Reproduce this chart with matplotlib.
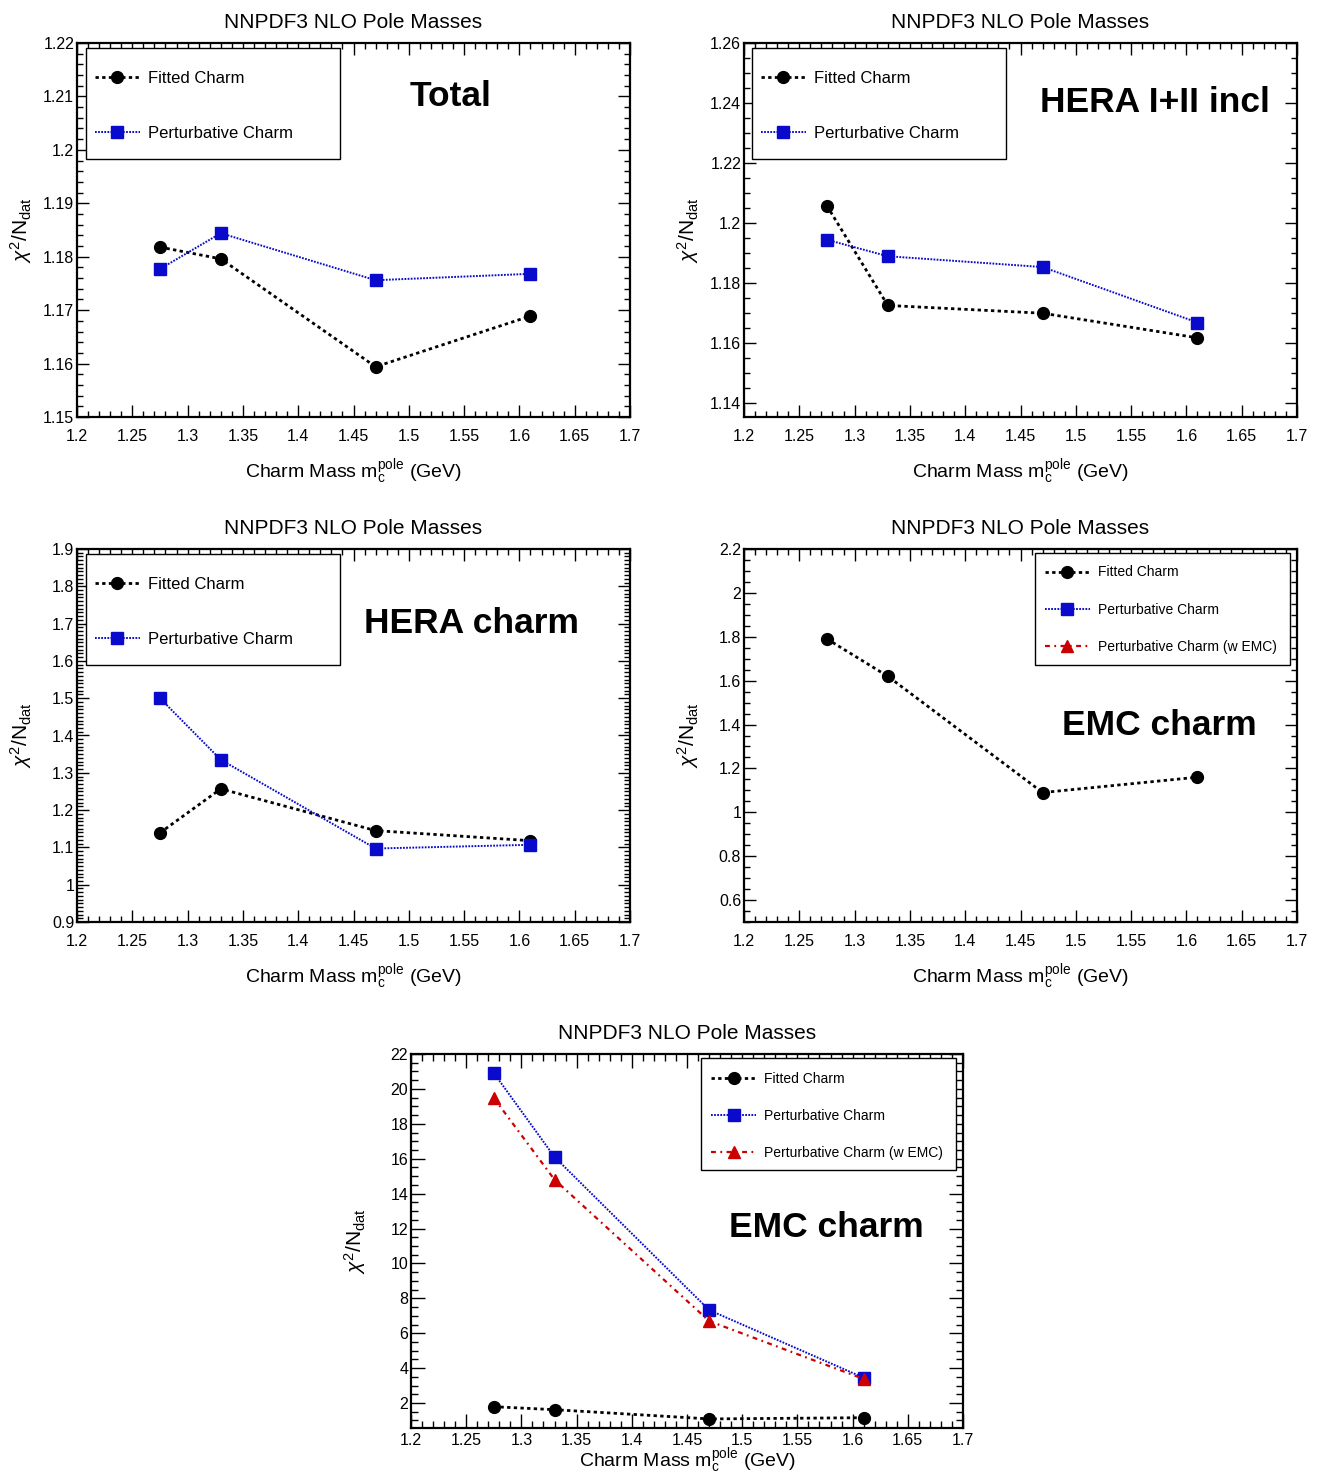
import matplotlib
matplotlib.use("Agg")
import matplotlib.pyplot as plt
from matplotlib.patches import Rectangle
from matplotlib.ticker import MultipleLocator, FuncFormatter

plt.rcParams['font.family'] = ['Liberation Sans', 'DejaVu Sans']
plt.rcParams['mathtext.fontset'] = 'custom'
plt.rcParams['mathtext.rm'] = 'Liberation Sans'
plt.rcParams['mathtext.it'] = 'Liberation Sans:italic'
plt.rcParams['mathtext.bf'] = 'Liberation Sans:bold'

# charm pole masses (GeV)
mass = [1.275, 1.33, 1.47, 1.61]

# chi2/Ndat values
total_fitted = [1.1818, 1.1796, 1.1594, 1.1689]
total_pert = [1.1777, 1.1844, 1.1756, 1.1768]
hera_incl_fitted = [1.2057, 1.1725, 1.1699, 1.1617]
hera_incl_pert = [1.1944, 1.1889, 1.1853, 1.1668]
hera_charm_fitted = [1.139, 1.257, 1.145, 1.118]
hera_charm_pert = [1.500, 1.335, 1.097, 1.107]
emc_fitted = [1.79, 1.62, 1.09, 1.16]
emc_pert = [20.91, 16.10, 7.33, 3.45]
emc_pert_emc = [19.48, 14.80, 6.70, 3.38]

title = 'NNPDF3 NLO Pole Masses'
xlabel = r'Charm Mass m$_{\rm c}^{\rm pole}$ (GeV)'
ylabel = r'$\mathit{\chi}^{2}$/N$_{\rm dat}$'
lab_fit = 'Fitted Charm'
lab_pert = 'Perturbative Charm'
lab_pert_emc = 'Perturbative Charm (w EMC)'

BLUE = '#0a0acc'
RED = '#cc0000'

W, H = 1318, 1475
fig = plt.figure(figsize=(W / 100, H / 100), dpi=100)


def px_axes(left, top, right, bottom):
    return fig.add_axes([left / W, 1 - bottom / H, (right - left) / W, (bottom - top) / H])


def fmt(v, _):
    return f'{round(v, 6):g}'


def draw_panel(ax, series, ylim, ymaj, ymin, tag, tag_xy, frame, leg_anchor,
               leg_size, leg_spacing, xlab_y, tick_pad, maj_len=8.5):
    for y, lab, kind in series:
        if kind == 'fit':
            ax.plot(mass, y, color='black', lw=2.0, ls=(0, (1.2, 1.2)),
                    marker='o', ms=8.5, label=lab)
        elif kind == 'pert':
            ax.plot(mass, y, color=BLUE, lw=1.4, ls=(0, (0.9, 0.7)),
                    marker='s', ms=8.5, mec=BLUE, mfc=BLUE, label=lab)
        else:
            ax.plot(mass, y, color=RED, lw=1.6, ls=(0, (2.2, 2, 0.8, 2)),
                    marker='^', ms=9, mec=RED, mfc=RED, label=lab)
    ax.set_xlim(1.2, 1.7)
    ax.set_ylim(*ylim)
    ax.xaxis.set_major_locator(MultipleLocator(0.05))
    ax.xaxis.set_minor_locator(MultipleLocator(0.01))
    ax.yaxis.set_major_locator(MultipleLocator(ymaj))
    ax.yaxis.set_minor_locator(MultipleLocator(ymin))
    ax.xaxis.set_major_formatter(FuncFormatter(fmt))
    ax.yaxis.set_major_formatter(FuncFormatter(fmt))
    ax.tick_params(which='both', direction='in', top=True, right=True,
                   labelsize=11.5, width=1.0)
    ax.tick_params(which='major', length=maj_len)
    ax.tick_params(which='minor', length=maj_len / 2)
    ax.tick_params(axis='x', pad=tick_pad)
    ax.tick_params(axis='y', pad=2)
    for s in ax.spines.values():
        s.set_linewidth(1.6)
    ax.set_title(title, fontsize=15, pad=11)
    ax.set_xlabel(xlabel, fontsize=14)
    ax.xaxis.set_label_coords(0.5, xlab_y)
    ax.set_ylabel(ylabel, fontsize=15)
    ax.yaxis.set_label_coords(-0.077, 0.5)
    ax.text(tag_xy[0], tag_xy[1], tag, transform=ax.transAxes, ha='center',
            va='center', fontsize=25.5, fontweight='bold')

    # ROOT-like legend: plain box, entries spread out inside it
    x0, y0, x1, y1 = frame
    ax.add_patch(Rectangle((x0, y0), x1 - x0, y1 - y0, transform=ax.transAxes,
                           facecolor='white', edgecolor='black', lw=1.0,
                           zorder=4.5))
    ax.legend(loc='upper left', bbox_to_anchor=leg_anchor, fontsize=leg_size,
              frameon=False, borderpad=0, borderaxespad=0,
              labelspacing=leg_spacing, handlelength=45 / (leg_size * 100 / 72),
              handletextpad=8 / (leg_size * 100 / 72))


ax1 = px_axes(77, 43, 630, 417)
draw_panel(ax1, [(total_fitted, lab_fit, 'fit'), (total_pert, lab_pert, 'pert')],
           (1.15, 1.22), 0.01, 0.002, 'Total', (0.675, 0.856),
           (0.0163, 0.690, 0.475, 0.9866), (0.0325, 0.9245), 12, 2.37, -0.11, 8.5)

ax2 = px_axes(744, 43, 1297, 417)
draw_panel(ax2, [(hera_incl_fitted, lab_fit, 'fit'), (hera_incl_pert, lab_pert, 'pert')],
           (1.1353, 1.26), 0.02, 0.005, 'HERA I+II incl', (0.744, 0.84),
           (0.0145, 0.690, 0.4735, 0.9866), (0.0307, 0.9245), 12, 2.37, -0.11, 8.5)

ax3 = px_axes(77, 549, 630, 922)
draw_panel(ax3, [(hera_charm_fitted, lab_fit, 'fit'), (hera_charm_pert, lab_pert, 'pert')],
           (0.9, 1.9), 0.1, 0.01, 'HERA charm', (0.7125, 0.799),
           (0.0163, 0.689, 0.475, 0.9866), (0.0325, 0.9245), 12, 2.37, -0.11, 8.5)

ax4 = px_axes(744, 549, 1297, 922)
draw_panel(ax4, [(emc_fitted, lab_fit, 'fit'), (emc_pert, lab_pert, 'pert'),
                 (emc_pert_emc, lab_pert_emc, 'emc')],
           (0.5, 2.2), 0.2, 0.05, 'EMC charm', (0.7514, 0.528),
           (0.526, 0.689, 0.987, 0.989), (0.5443, 0.9558), 10, 1.68, -0.11, 8.5)

ax5 = px_axes(411, 1054, 963, 1428)
draw_panel(ax5, [(emc_fitted, lab_fit, 'fit'), (emc_pert, lab_pert, 'pert'),
                 (emc_pert_emc, lab_pert_emc, 'emc')],
           (0.57, 22), 2, 0.5, 'EMC charm', (0.7527, 0.535),
           (0.525, 0.690, 0.987, 0.989), (0.5435, 0.9532), 10, 1.68, -0.05, 3.6,
           maj_len=10)

fig.savefig('out.png', dpi=100)
